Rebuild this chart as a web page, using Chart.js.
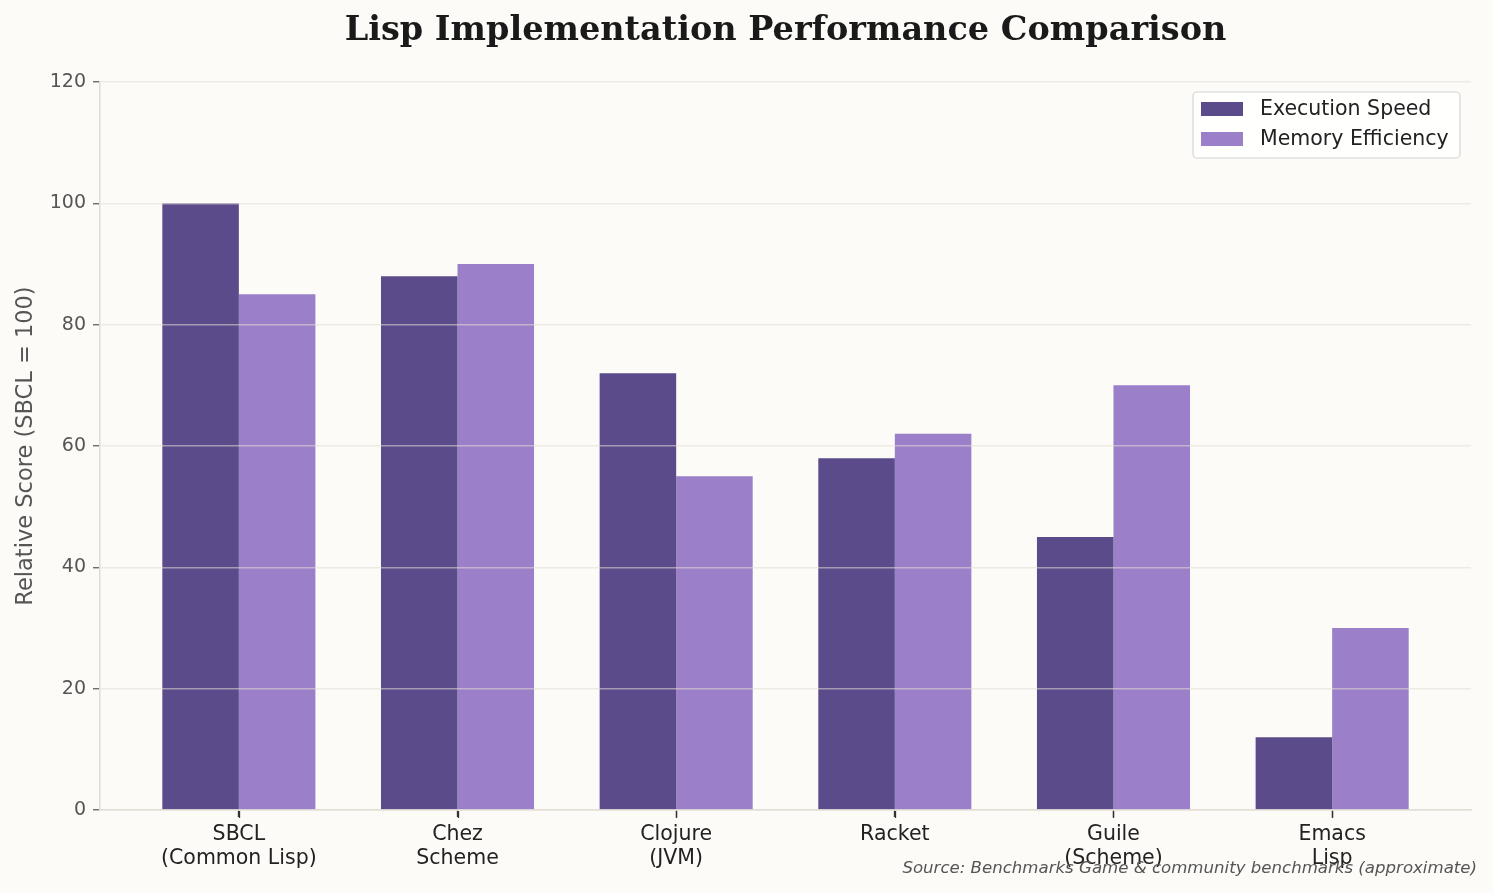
<!DOCTYPE html>
<html>
<head>
<meta charset="utf-8">
<script src="https://cdn.jsdelivr.net/npm/chart.js@4"></script>
<style>
  body { margin: 0; background: #fcfbf7; }
  #wrap { width: 1493px; height: 893px; position: relative; }
</style>
</head>
<body>
<div id="wrap"><canvas id="lispChart"></canvas></div>
<script>
const implementations = [
  ["SBCL", "(Common Lisp)"],
  ["Chez", "Scheme"],
  ["Clojure", "(JVM)"],
  ["Racket"],
  ["Guile", "(Scheme)"],
  ["Emacs", "Lisp"]
];

const executionSpeed = [100, 88, 72, 58, 45, 12];
const memoryEfficiency = [85, 90, 55, 62, 70, 30];

const yTicks = [0, 20, 40, 60, 80, 100, 120];

const seriesNames = ["Execution Speed", "Memory Efficiency"];
const seriesColors = ["#5b4b8a", "#9b7fc8"];

const FONT = "'DejaVu Sans', sans-serif";

const ctx = document.getElementById("lispChart");

// title, source note, x tick marks and legend box drawn onto the canvas
const extras = {
  id: "extras",
  afterDraw(chart) {
    const c = chart.ctx;
    const area = chart.chartArea;
    const xs = chart.scales.x;
    c.save();

    c.strokeStyle = "#333333";
    c.lineWidth = 1.3;
    implementations.forEach((_, i) => {
      const px = Math.round(xs.getPixelForValue(i)) + 0.5;
      c.beginPath();
      c.moveTo(px, area.bottom + 1);
      c.lineTo(px, area.bottom + 8);
      c.stroke();
    });

    c.fillStyle = "#1a1a1a";
    c.font = "bold 33.5px 'DejaVu Serif', serif";
    c.textAlign = "center";
    c.textBaseline = "middle";
    c.fillText("Lisp Implementation Performance Comparison", (area.left + area.right) / 2, 31);

    c.fillStyle = "#555555";
    c.font = "italic 16.6px " + FONT;
    c.textAlign = "right";
    c.fillText("Source: Benchmarks Game & community benchmarks (approximate)", 1477, 869);

    // legend
    const bx = 1193, by = 92, bw = 267, bh = 66;
    c.beginPath();
    c.roundRect(bx, by, bw, bh, 4);
    c.fillStyle = "rgba(255,255,255,0.85)";
    c.fill();
    c.strokeStyle = "#d4d4d4";
    c.lineWidth = 1.2;
    c.stroke();

    c.font = "20.5px " + FONT;
    c.textAlign = "left";
    seriesNames.forEach((name, i) => {
      const y = 109 + i * 30;
      c.fillStyle = seriesColors[i];
      c.fillRect(1201, y - 7, 42, 14);
      c.fillStyle = "#222222";
      c.fillText(name, 1260, y + 1);
    });

    c.restore();
  }
};

new Chart(ctx, {
  type: "bar",
  data: {
    datasets: [
      {
        label: seriesNames[0],
        data: executionSpeed.map((v, i) => ({ x: i, y: v })),
        backgroundColor: seriesColors[0]
      },
      {
        label: seriesNames[1],
        data: memoryEfficiency.map((v, i) => ({ x: i, y: v })),
        backgroundColor: seriesColors[1]
      }
    ]
  },
  options: {
    responsive: true,
    maintainAspectRatio: false,
    animation: false,
    layout: { padding: { top: 82, right: 22, left: 0, bottom: 0 } },
    datasets: {
      bar: { categoryPercentage: 0.7, barPercentage: 1.0 }
    },
    plugins: {
      legend: { display: false },
      title: { display: false },
      tooltip: { enabled: false }
    },
    scales: {
      x: {
        type: "linear",
        offset: false,
        min: -0.635,
        max: 5.635,
        afterBuildTicks(scale) {
          scale.ticks = implementations.map((_, i) => ({ value: i }));
        },
        afterFit(scale) {
          scale.height = 83;
        },
        ticks: {
          autoSkip: false,
          maxRotation: 0,
          color: "#222222",
          padding: 6,
          font: { family: FONT, size: 20.5, lineHeight: 1.15 },
          callback: (value) => implementations[value]
        },
        grid: {
          offset: false,
          drawOnChartArea: false,
          tickLength: 7,
          tickColor: "#333333",
          tickWidth: 1.3
        },
        border: { color: "#e0dcd5", width: 1.5 }
      },
      y: {
        min: 0,
        max: 120,
        afterBuildTicks(scale) {
          scale.ticks = yTicks.map((v) => ({ value: v }));
        },
        afterFit(scale) {
          scale.width = 100;
        },
        ticks: {
          color: "#555555",
          padding: 7,
          font: { family: FONT, size: 19 }
        },
        grid: {
          z: 1,
          color: "rgba(228,223,213,0.55)",
          lineWidth: 1.5,
          tickLength: 7,
          tickColor: "#555555",
          tickWidth: 1.2
        },
        border: { z: 2, color: "#e0dcd5", width: 1.5 },
        title: {
          display: true,
          text: "Relative Score (SBCL = 100)",
          color: "#555555",
          padding: { top: 13, bottom: 0 },
          font: { family: FONT, size: 22.5 }
        }
      }
    }
  },
  plugins: [extras]
});
</script>
</body>
</html>
